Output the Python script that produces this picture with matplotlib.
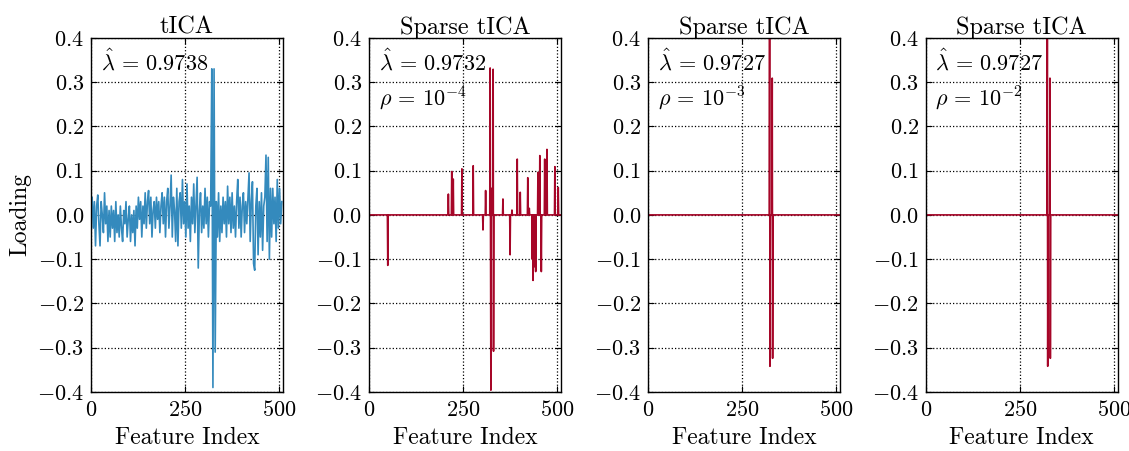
import numpy as np
import matplotlib
matplotlib.use('Agg')
from matplotlib import pyplot as plt

plt.rcParams['font.family'] = 'serif'
plt.rcParams['font.serif'] = ['cmr10']
plt.rcParams['mathtext.fontset'] = 'cm'
plt.rcParams['axes.formatter.use_mathtext'] = True

N_FEATURES = 510

# tICA loadings, read every 3rd feature
tica_step = 3
tica_values = [
    0.01, 0.04, -0.03, 0.03, -0.07, 0.02, 0.045, -0.02, -0.07, 0.03,
    0.00, -0.04, 0.05, -0.02, 0.02, -0.06, 0.01, -0.05, 0.02, -0.03,
    0.01, -0.06, 0.03, -0.04, 0.00, -0.05, 0.02, -0.03, -0.06, 0.01,
    -0.02, 0.03, -0.05, -0.01, 0.02, -0.06, 0.00, -0.04, 0.01, -0.07,
    0.02, -0.03, 0.04, -0.01, 0.03, -0.05, 0.02, -0.02, 0.05, -0.03,
    0.03, 0.055, -0.02, 0.04, -0.05, 0.01, 0.03, -0.03, 0.04, -0.01,
    0.03, -0.04, 0.02, 0.05, -0.02, 0.04, -0.05, 0.03, 0.06, -0.03,
    0.02, 0.09, -0.05, 0.04, 0.01, -0.06, 0.06, -0.07, 0.03, 0.05,
    -0.03, 0.08, -0.02, 0.03, -0.05, 0.07, -0.03, 0.02, -0.06, 0.04,
    -0.02, 0.07, -0.04, 0.02, 0.085, -0.12, 0.01, 0.05, -0.04, 0.02,
    -0.03, 0.06, -0.02, 0.04, -0.05, 0.03, 0.02, 0.33, -0.39, 0.33,
    -0.31, 0.03, -0.05, 0.05, -0.06, 0.02, -0.04, 0.04, -0.02, 0.03,
    -0.05, 0.065, -0.02, 0.04, -0.04, 0.05, -0.03, 0.02, -0.05, 0.03,
    0.08, -0.03, 0.04, -0.05, 0.02, 0.05, -0.04, 0.03, -0.02, 0.04,
    0.095, -0.06, 0.03, 0.075, -0.11, -0.125, 0.02, 0.06, -0.09, 0.03,
    -0.05, 0.05, -0.08, 0.02, 0.04, 0.135, -0.06, 0.13, -0.10, 0.06,
    -0.05, 0.06, -0.02, 0.04, -0.06, 0.08, -0.03, 0.06, -0.02, 0.03,
]

# sparse tICA, rho = 1e-4 (nonzero entries only)
sparse4_idx = [50, 211, 220, 224, 247, 277, 303, 310, 322, 324, 326, 330, 331,
               356, 375, 380, 394, 402, 422, 426, 434, 436, 440, 443, 449,
               454, 458, 467, 473, 494, 503]
sparse4_val = [-0.114, 0.047, 0.098, 0.081, 0.104, 0.111, -0.034, 0.055, 0.332,
               -0.396, 0.06, 0.329, -0.308, 0.036, -0.09, 0.011, 0.126, 0.051,
               0.084, 0.015, -0.10, -0.148, -0.117, -0.128, 0.096, 0.134,
               -0.128, 0.126, 0.148, 0.109, 0.062]

# sparse tICA, rho = 1e-3 and 1e-2
sparse3_idx = [323, 324, 330, 331]
sparse3_val = [0.45, -0.342, 0.309, -0.324]
sparse2_idx = [323, 324, 330, 331]
sparse2_val = [0.45, -0.342, 0.309, -0.324]

titles = ['tICA', 'Sparse tICA', 'Sparse tICA', 'Sparse tICA']
lambdas = ['0.9738', '0.9732', '0.9727', '0.9727']
rhos = [None, '-4', '-3', '-2']


def sparse_series(idx, val):
    y = np.zeros(N_FEATURES)
    y[idx] = val
    return y


series = [
    (np.arange(len(tica_values)) * tica_step, np.array(tica_values), '#348ABD'),
    (np.arange(N_FEATURES), sparse_series(sparse4_idx, sparse4_val), '#A60628'),
    (np.arange(N_FEATURES), sparse_series(sparse3_idx, sparse3_val), '#A60628'),
    (np.arange(N_FEATURES), sparse_series(sparse2_idx, sparse2_val), '#A60628'),
]

fig = plt.figure(figsize=(11.29, 4.51), dpi=100)
lefts = [0.0806, 0.3268, 0.5740, 0.8200]

for i, (x, y, color) in enumerate(series):
    ax = fig.add_axes([lefts[i], 0.131, 0.170, 0.785])
    ax.plot(x, y, color=color, lw=1.2)
    ax.set_xlim(0, N_FEATURES)
    ax.set_ylim(-0.4, 0.4)
    ax.set_xticks([0, 250, 500])
    ax.set_yticks(np.arange(-0.4, 0.41, 0.1))
    ax.grid(True, color='black', linestyle=':', linewidth=0.9)
    ax.tick_params(direction='in', top=True, right=True, labelsize=16, length=4)
    ax.tick_params(axis='x', pad=6)
    ax.tick_params(axis='y', pad=5)
    for sp in ax.spines.values():
        sp.set_linewidth(1.0)
    ax.set_title(titles[i], fontsize=17.5, pad=3)
    ax.set_xlabel('Feature Index', fontsize=17, labelpad=5)
    ax.text(0.05, 0.935, r'$\hat{\lambda}\,=\,%s$' % lambdas[i], transform=ax.transAxes,
            fontsize=16, va='center', ha='left')
    if rhos[i] is not None:
        ax.text(0.05, 0.83, r'$\rho\,=\,10^{%s}$' % rhos[i], transform=ax.transAxes,
                fontsize=16, va='center', ha='left')
    if i == 0:
        ax.set_ylabel('Loading', fontsize=17, labelpad=4)

plt.savefig('out.png', dpi=100)
